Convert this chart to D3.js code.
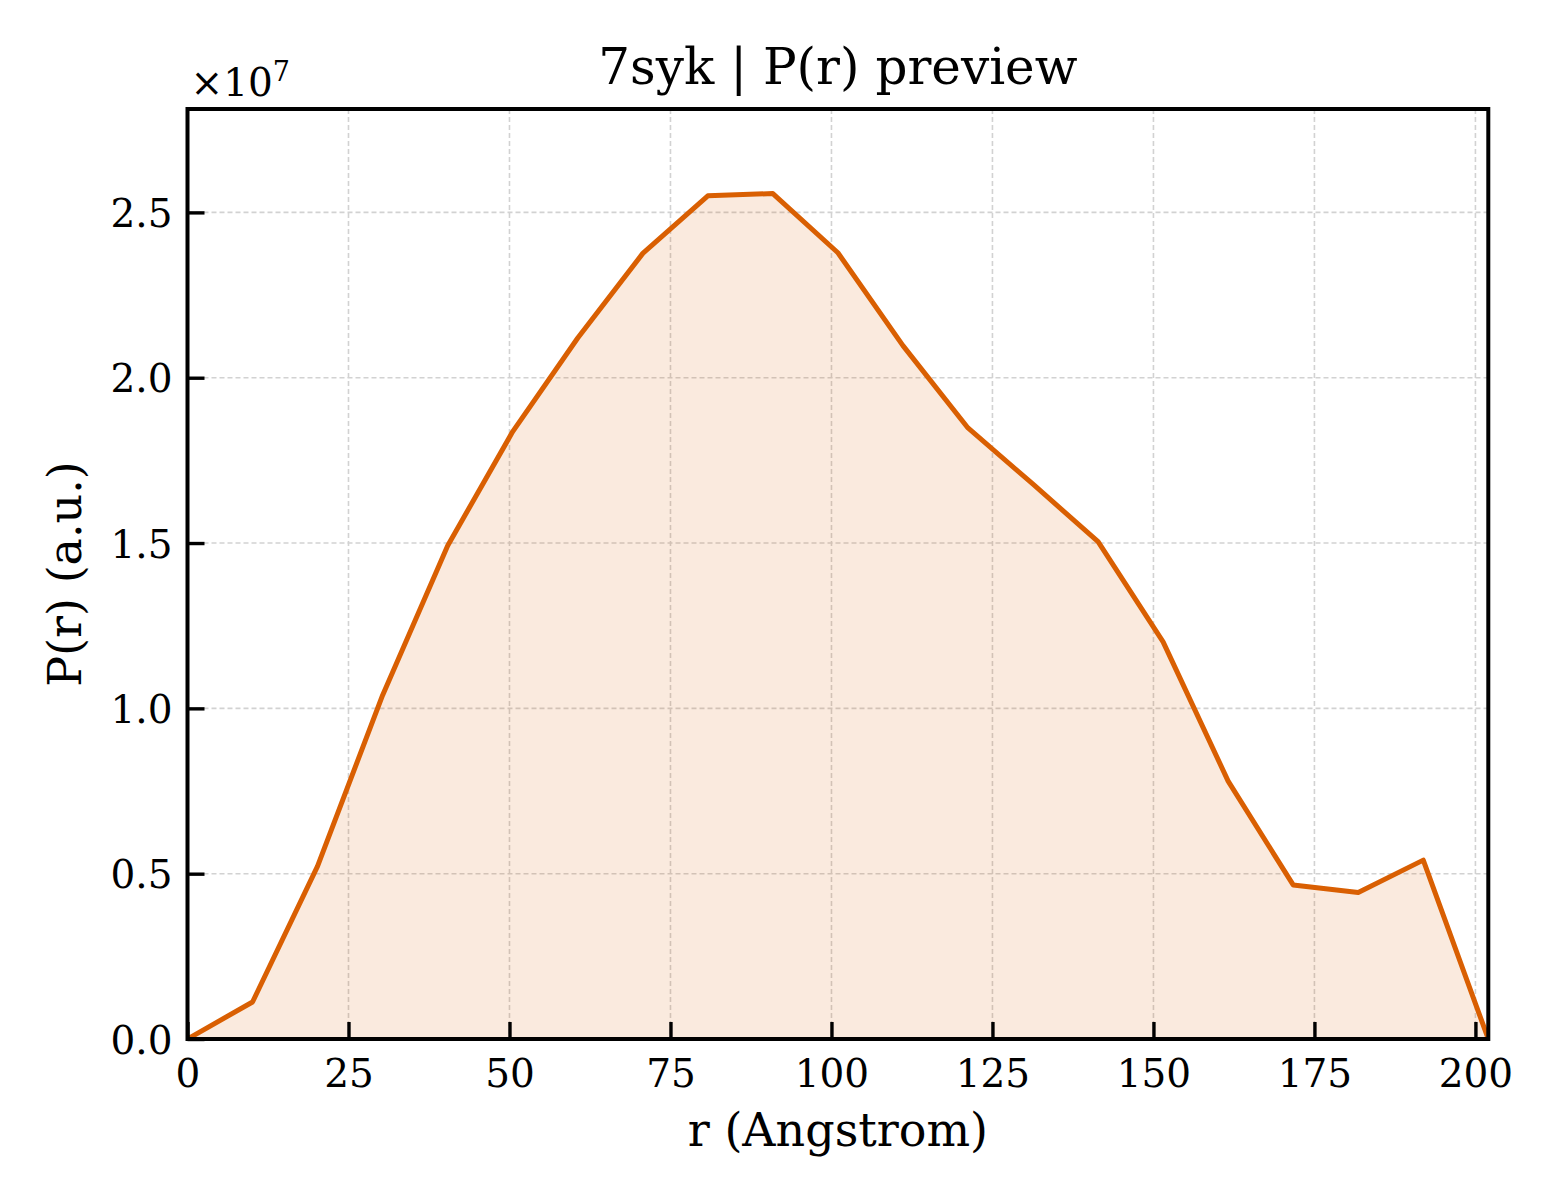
<!DOCTYPE html>
<html>
<head>
<meta charset="utf-8">
<script src="https://cdn.jsdelivr.net/npm/d3@7"></script>
<style>
  body { margin: 0; background: #fff; }
  svg { display: block; }
  text { font-family: "DejaVu Serif", serif; fill: #000; }
</style>
</head>
<body>
<svg id="canvas" width="1560" height="1200"></svg>
<script>
// r in Angstrom, P(r) in arbitrary units
let rValues = [0, 10.1, 20.2, 30.3, 40.4, 50.5, 60.6, 70.7, 80.8, 90.9, 101.0,
               111.1, 121.2, 131.3, 141.4, 151.5, 161.6, 171.7, 181.8, 191.9, 202.0]
let prValues = [0, 1.12e6, 5.23e6, 1.040e7, 1.492e7, 1.837e7, 2.120e7, 2.376e7, 2.550e7, 2.557e7, 2.378e7,
                2.097e7, 1.848e7, 1.678e7, 1.504e7, 1.201e7, 7.80e6, 4.66e6, 4.43e6, 5.41e6, 0]
let xTicks = [0, 25, 50, 75, 100, 125, 150, 175, 200]
let yTicks = [0, 0.5e7, 1.0e7, 1.5e7, 2.0e7, 2.5e7]

let titleText = "7syk | P(r) preview"
let xLabel = "r (Angstrom)"
let yLabel = "P(r) (a.u.)"

let plotLeft = 187.5, plotRight = 1488.3, plotTop = 109, plotBottom = 1039
let color = "#d95f02"

let canvas = d3.select("#canvas")

let xScale = d3.scaleLinear().domain([0, d3.max(rValues)]).range([plotLeft, plotRight])
let yScale = d3.scaleLinear().domain([0, d3.max(prValues) * 1.1]).range([plotBottom, plotTop])

let points = rValues.map((r, i) => [r, prValues[i]])

canvas.append("defs").append("clipPath").attr("id", "clip")
    .append("rect")
    .attr("x", plotLeft).attr("y", plotTop)
    .attr("width", plotRight - plotLeft).attr("height", plotBottom - plotTop)

// grid
let grid = canvas.append("g")
grid.selectAll(".gx")
    .data(xTicks)
    .enter()
    .append("line")
    .attr("x1", d => xScale(d)).attr("x2", d => xScale(d))
    .attr("y1", plotTop).attr("y2", plotBottom)
grid.selectAll(".gy")
    .data(yTicks)
    .enter()
    .append("line")
    .attr("x1", plotLeft).attr("x2", plotRight)
    .attr("y1", d => yScale(d)).attr("y2", d => yScale(d))
grid.selectAll("line")
    .attr("stroke", "#d2d2d2")
    .attr("stroke-width", 1.6)
    .attr("stroke-dasharray", "5,3")

// filled area and line
let plot = canvas.append("g").attr("clip-path", "url(#clip)")
plot.append("path")
    .datum(points)
    .attr("d", d3.area().x(d => xScale(d[0])).y0(yScale(0)).y1(d => yScale(d[1])))
    .attr("fill", color)
    .attr("fill-opacity", 0.13)
plot.append("path")
    .datum(points)
    .attr("d", d3.line().x(d => xScale(d[0])).y(d => yScale(d[1])))
    .attr("fill", "none")
    .attr("stroke", color)
    .attr("stroke-width", 5)
    .attr("stroke-linejoin", "round")

// axes with inward ticks
let xAxis = d3.axisBottom(xScale).tickValues(xTicks).tickSizeInner(-17).tickSizeOuter(0)
    .tickFormat(d3.format("d"))
let yAxis = d3.axisLeft(yScale).tickValues(yTicks).tickSizeInner(-17).tickSizeOuter(0)
    .tickFormat(d => (d / 1e7).toFixed(1))

let gx = canvas.append("g").attr("transform", `translate(0,${plotBottom})`).call(xAxis)
let gy = canvas.append("g").attr("transform", `translate(${plotLeft},0)`).call(yAxis)
;[gx, gy].forEach(g => {
    g.select(".domain").remove()
    g.selectAll(".tick line").attr("stroke", "#000").attr("stroke-width", 3.4)
    g.selectAll(".tick text")
        .attr("font-family", "DejaVu Serif")
        .attr("font-size", 39)
        .attr("fill", "#000")
})
gx.selectAll(".tick text").attr("dy", 0).attr("y", 48)
gy.selectAll(".tick text").attr("x", -15).attr("dy", "0.36em")

// frame
canvas.append("rect")
    .attr("x", plotLeft).attr("y", plotTop)
    .attr("width", plotRight - plotLeft).attr("height", plotBottom - plotTop)
    .attr("fill", "none")
    .attr("stroke", "#000")
    .attr("stroke-width", 4)

// offset text
let off = canvas.append("text")
    .attr("x", plotLeft + 3).attr("y", 96)
    .attr("font-size", 39)
off.append("tspan").text("\u00d710")
off.append("tspan").attr("font-size", 27).attr("dy", -15).text("7")

// labels
canvas.append("text")
    .attr("x", (plotLeft + plotRight) / 2).attr("y", 84)
    .attr("text-anchor", "middle")
    .attr("font-size", 50)
    .text(titleText)
canvas.append("text")
    .attr("x", (plotLeft + plotRight) / 2).attr("y", 1146)
    .attr("text-anchor", "middle")
    .attr("font-size", 46)
    .text(xLabel)
canvas.append("text")
    .attr("transform", `translate(81,${(plotTop + plotBottom) / 2}) rotate(-90)`)
    .attr("text-anchor", "middle")
    .attr("font-size", 46)
    .text(yLabel)
</script>
</body>
</html>
